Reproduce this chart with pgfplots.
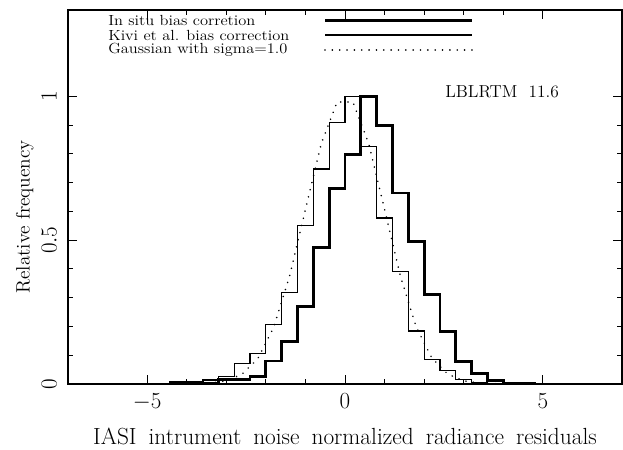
\documentclass[border=0pt]{standalone}
\usepackage{pgfplots}
\pgfplotsset{compat=1.18}
\pgfplotstableread{
x y
-7.0 0
-4.4 0.007
-3.6 0.002
-3.2 0.015
-2.8 0.016
-2.4 0.025
-2.0 0.080
-1.6 0.147
-1.2 0.269
-0.8 0.476
-0.4 0.679
0.0 0.797
0.4 1.000
0.8 0.900
1.2 0.664
1.6 0.495
2.0 0.310
2.4 0.182
2.8 0.078
3.2 0.035
3.6 0.013
4.0 0.002
4.4 0.003
4.8 0
7.0 0
}\insitu
\pgfplotstableread{
x y
-7.0 0
-4.4 0.005
-3.6 0.014
-3.2 0.025
-2.8 0.072
-2.4 0.107
-2.0 0.208
-1.6 0.318
-1.2 0.551
-0.8 0.747
-0.4 0.909
0.0 1.000
0.4 0.826
0.8 0.577
1.2 0.391
1.6 0.184
2.0 0.086
2.4 0.046
2.8 0.016
3.2 0.005
3.6 0.002
4.0 0
7.0 0
}\kivi
\pgfplotstableread{
x y
-4.2 0.0002
-3.8 0.0007
-3.4 0.0031
-3.0 0.0111
-2.6 0.0340
-2.2 0.0889
-1.8 0.1979
-1.4 0.3753
-1.0 0.6065
-0.6 0.8353
-0.2 0.9802
0.2 0.9802
0.6 0.8353
1.0 0.6065
1.4 0.3753
1.8 0.1979
2.2 0.0889
2.6 0.0340
3.0 0.0111
3.4 0.0031
3.8 0.0007
4.2 0.0002
}\gauss
\begin{document}
\begin{tikzpicture}
\begin{axis}[
  at={(0pt,0pt)}, anchor=south west,
  width=415.5pt, height=280.5pt, scale only axis,
  xmin=-7, xmax=7, ymin=0, ymax=1.3,
  xtick={-5,0,5}, ytick={0,0.5,1},
  minor x tick num=4, minor y tick num=4,
  tick pos=both, tick align=inside,
  major tick length=6.4pt, minor tick length=3.4pt,
  every tick/.style={black, line width=0.7pt},
  axis line style={line width=0.9pt},
  tick label style={font=\fontsize{16}{16}\selectfont},
  yticklabel style={rotate=90, anchor=south, yshift=5pt},
  xticklabel style={yshift=-3.5pt},
  xlabel={\spaceskip=9pt plus 1pt\relax IASI intrument noise normalized radiance residuals},
  ylabel={Relative frequency},
  xlabel style={font=\fontsize{17.5}{17.5}\selectfont,
    at={(axis description cs:0.5,-0.14)}, anchor=center},
  ylabel style={font=\fontsize{14.5}{14.5}\selectfont,
    at={(axis description cs:-0.078,0.447)}, anchor=center, rotate=0},
  clip=false,
]
\addplot[const plot mark left, black, line width=0.9pt] table {\kivi};
\addplot[black, line width=1.3pt, line cap=round, dash pattern=on 0.01pt off 5.5pt] table {\gauss};
\addplot[const plot mark left, black, line width=2.2pt] table {\insitu};
\end{axis}
\pgfresetboundingbox
\useasboundingbox (-51pt,-48.75pt) rectangle (416.25pt,288pt);
\begin{scope}[x=0.75pt,y=0.75pt,shift={(-51pt,-48.75pt)}]
\begin{scope}[font=\fontsize{11}{11}\selectfont]
\node[anchor=west, inner sep=0pt] at (108,449-20.5) {\scalebox{1.12}[1]{In situ bias corretion}};
\node[anchor=west, inner sep=0pt] at (108,449-35) {\scalebox{1.12}[1]{Kivi et al. bias correction}};
\node[anchor=west, inner sep=0pt] at (108,449-50) {\scalebox{1.12}[1]{Gaussian with sigma=1.0}};
\end{scope}
\draw[line width=2.2pt] (325,449-20.5) -- (472,449-20.5);
\draw[line width=0.9pt] (325,449-35) -- (472,449-35);
\draw[line width=1.3pt, line cap=round, dash pattern=on 0.01pt off 5.5pt] (325,449-50) -- (472,449-50);
\node[anchor=west, inner sep=0pt, font=\fontsize{13}{13}\selectfont] at (445,449-91.5) {LBLRTM\ \ 11.6};
\end{scope}
\end{tikzpicture}
\end{document}
